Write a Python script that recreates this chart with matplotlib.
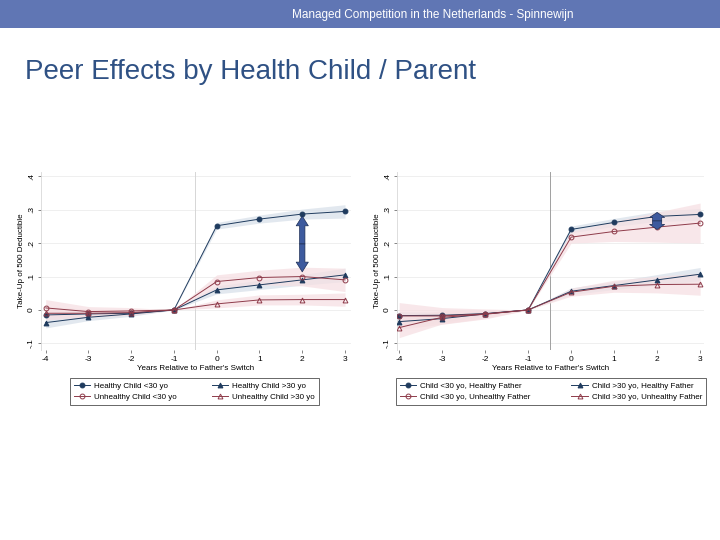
import matplotlib
matplotlib.use("Agg")
import matplotlib.pyplot as plt
from matplotlib.patches import FancyArrowPatch, Rectangle
import numpy as np

plt.rcParams['font.family'] = ['Liberation Sans', 'DejaVu Sans']

years = [-4, -3, -2, -1, 0, 1, 2, 3]
year_labels = ["-4", "-3", "-2", "-1", "0", "1", "2", "3"]
y_ticks = [-0.1, 0, 0.1, 0.2, 0.3, 0.4]
y_tick_labels = ["-.1", "0", ".1", ".2", ".3", ".4"]

# Left panel: health of child
left_names = ["Healthy Child <30 yo", "Healthy Child >30 yo",
              "Unhealthy Child <30 yo", "Unhealthy Child >30 yo"]
left_h_young = [-0.015, -0.012, -0.010, 0.0, 0.252, 0.272, 0.287, 0.295]
left_h_old = [-0.038, -0.022, -0.012, 0.0, 0.060, 0.075, 0.090, 0.105]
left_u_young = [0.006, -0.005, -0.003, 0.0, 0.085, 0.097, 0.100, 0.090]
left_u_old = [-0.010, -0.010, -0.008, 0.0, 0.018, 0.030, 0.031, 0.031]
left_h_young_ci = [0.010, 0.008, 0.006, 0.0, 0.010, 0.012, 0.015, 0.020]
left_h_old_ci = [0.016, 0.010, 0.007, 0.0, 0.012, 0.014, 0.016, 0.020]
left_u_young_ci = [0.025, 0.015, 0.010, 0.0, 0.020, 0.022, 0.028, 0.035]
left_u_old_ci = [0.020, 0.012, 0.008, 0.0, 0.012, 0.015, 0.016, 0.020]

# Right panel: health of father
right_names = ["Child <30 yo, Healthy Father", "Child >30 yo, Healthy Father",
               "Child <30 yo, Unhealthy Father", "Child >30 yo, Unhealthy Father"]
right_h_young = [-0.017, -0.016, -0.011, 0.0, 0.241, 0.262, 0.280, 0.286]
right_h_old = [-0.035, -0.026, -0.012, 0.0, 0.056, 0.073, 0.090, 0.107]
right_u_young = [-0.018, -0.018, -0.012, 0.0, 0.218, 0.235, 0.248, 0.260]
right_u_old = [-0.053, -0.022, -0.013, 0.0, 0.053, 0.071, 0.076, 0.077]
right_h_young_ci = [0.012, 0.009, 0.006, 0.0, 0.010, 0.012, 0.015, 0.018]
right_h_old_ci = [0.016, 0.011, 0.007, 0.0, 0.010, 0.012, 0.016, 0.020]
right_u_young_ci = [0.040, 0.025, 0.015, 0.0, 0.018, 0.030, 0.045, 0.060]
right_u_old_ci = [0.030, 0.020, 0.012, 0.0, 0.012, 0.018, 0.025, 0.033]

# arrows (x, y_top, y_bottom)
left_arrow = (2, 0.281, 0.114)
right_arrow = (2, 0.292, 0.241)

NAVY = "#1f3b5e"
MAROON = "#8e3b4a"
BAND_B = "#d9e1ea"
BAND_R = "#f6e0e3"

fig = plt.figure(figsize=(7.2, 5.4), dpi=100)

# header band
fig.patches.append(Rectangle((0, 1 - 28 / 540), 1, 28 / 540, transform=fig.transFigure,
                             facecolor="#6076b4", edgecolor="none", zorder=0))
fig.text(433 / 720, 1 - 15 / 540, "Managed Competition in the Netherlands - Spinnewijn",
         color="white", fontsize=8.5, ha="center", va="center")
fig.text(25 / 720, 1 - 79 / 540, "Peer Effects by Health Child / Parent",
         color="#2f5184", fontsize=20, ha="left", va="baseline")


def panel(rect, xlim, series, cis, names, vcolor, arrow, arrow_style, arrow_scale, legend_rect):
    ax = fig.add_axes(rect)
    ax.set_xlim(*xlim)
    ax.set_ylim(-0.12, 0.413)
    for s in ["top", "right", "bottom"]:
        ax.spines[s].set_visible(False)
    ax.spines["left"].set_color("#d8d8d8")
    ax.spines["left"].set_linewidth(0.6)
    ax.set_yticks(y_ticks)
    ax.set_yticklabels(y_tick_labels, rotation=90, va="center")
    ax.set_xticks(years)
    ax.set_xticklabels(year_labels)
    ax.tick_params(axis="both", labelsize=6, length=2.5, width=0.5, color="#555555", pad=2)
    for yt in y_ticks:
        ax.axhline(yt, color="#ececec", lw=0.6, zorder=0)
    ax.axvline(-0.5, color=vcolor, lw=0.7, zorder=0)
    ax.set_xlabel("Years Relative to Father's Switch", fontsize=5.8, labelpad=1)
    ax.set_ylabel("Take-Up of 500 Deductible", fontsize=5.8, labelpad=2)

    colors = [NAVY, NAVY, MAROON, MAROON]
    bands = [BAND_B, BAND_B, BAND_R, BAND_R]
    markers = ["o", "^", "o", "^"]
    fills = [NAVY, NAVY, "none", "none"]
    x = np.array(years)
    for vals, ci, c, b in zip(series, cis, colors, bands):
        v = np.array(vals)
        e = np.array(ci)
        ax.fill_between(x, v - e, v + e, color=b, alpha=0.75, lw=0, zorder=1)
    handles = []
    for vals, c, m, f, n in zip(series, colors, markers, fills, names):
        h, = ax.plot(years, vals, color=c, lw=0.7, marker=m, markersize=3.5,
                     markerfacecolor=f, markeredgecolor=c, markeredgewidth=0.7,
                     zorder=3, label=n)
        handles.append(h)
    xa, ytop, ybot = arrow
    ymid = (ytop + ybot) / 2
    for yend in (ytop, ybot):
        arr = FancyArrowPatch((xa, ymid), (xa, yend), arrowstyle=arrow_style,
                              facecolor="#3d5a9e", edgecolor="#1e2f55", lw=0.5,
                              mutation_scale=arrow_scale, shrinkA=0, shrinkB=0,
                              zorder=5)
        ax.add_patch(arr)
    order = [0, 2, 1, 3]
    leg = ax.legend([handles[i] for i in order], [names[i] for i in order],
                    ncol=2, loc="upper left", mode="expand",
                    bbox_to_anchor=legend_rect, bbox_transform=fig.transFigure,
                    fontsize=5.8, frameon=True, fancybox=False, edgecolor="#222222",
                    borderpad=0.5, handlelength=2.0, handletextpad=0.5,
                    columnspacing=1.0, labelspacing=0.45, borderaxespad=0)
    leg.get_frame().set_linewidth(0.6)
    return ax


panel([41 / 720, 1 - 350 / 540, 310 / 720, 178 / 540], (-4.11, 3.14),
      [left_h_young, left_h_old, left_u_young, left_u_old],
      [left_h_young_ci, left_h_old_ci, left_u_young_ci, left_u_old_ci],
      left_names, "#d6d6d6", left_arrow,
      "simple,head_length=1.0,head_width=1.25,tail_width=0.55", 7,
      (70 / 720, 1 - 378 / 540 - 0.01, 249 / 720, 0.01))

panel([397 / 720, 1 - 350 / 540, 307 / 720, 178 / 540], (-4.05, 3.09),
      [right_h_young, right_h_old, right_u_young, right_u_old],
      [right_h_young_ci, right_h_old_ci, right_u_young_ci, right_u_old_ci],
      right_names, "#a0a0a0", right_arrow,
      "simple,head_length=0.6,head_width=1.8,tail_width=1.1", 6,
      (396 / 720, 1 - 378 / 540 - 0.01, 310 / 720, 0.01))

fig.savefig("out.png", dpi=100)
